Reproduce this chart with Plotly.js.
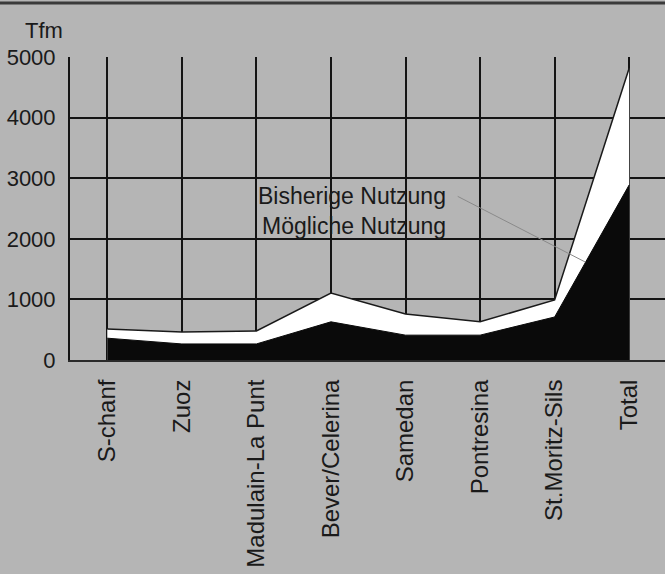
<!DOCTYPE html>
<html>
<head>
<meta charset="utf-8">
<script src="https://cdn.plot.ly/plotly-3.0.1.min.js"></script>
<style>
html,body{margin:0;padding:0;background:#b5b5b5;}
#chart{width:665px;height:574px;}
</style>
</head>
<body>
<div id="chart"></div>
<script>
const categories = ["S-chanf","Zuoz","Madulain-La Punt","Bever/Celerina","Samedan","Pontresina","St.Moritz-Sils","Total"];
const bisherige = [360, 265, 265, 630, 410, 410, 710, 2890];
const moegliche = [510, 460, 480, 1105, 760, 630, 990, 4820];
const yTicks = [0, 1000, 2000, 3000, 4000, 5000];

const font = "Liberation Sans, Arial, Helvetica, sans-serif";
const idx = categories.map((c, i) => i);

const traces = [
  {
    x: idx, y: moegliche, type: "scatter", mode: "lines",
    fill: "tozeroy", fillcolor: "#ffffff",
    line: {color: "#1a1a1a", width: 1.5},
    name: "Mögliche Nutzung", hoverinfo: "skip"
  },
  {
    x: idx, y: bisherige, type: "scatter", mode: "lines",
    fill: "tozeroy", fillcolor: "#0a0a0a",
    line: {color: "#0a0a0a", width: 1},
    name: "Bisherige Nutzung", hoverinfo: "skip"
  }
];

const layout = {
  width: 665, height: 574,
  margin: {l: 70, r: 0, t: 57, b: 214},
  paper_bgcolor: "#b5b5b5",
  plot_bgcolor: "#b5b5b5",
  showlegend: false,
  font: {family: font, color: "#1a1a1a", size: 22},
  xaxis: {
    range: [-0.5, 7.48],
    tickmode: "array", tickvals: idx, ticktext: categories,
    tickangle: -90, ticks: "",
    ticklabelstandoff: 8,
    tickfont: {family: font, size: 24, color: "#1a1a1a"},
    showgrid: true, gridcolor: "#141414", gridwidth: 2,
    showline: true, linecolor: "#2a2a2a", linewidth: 2,
    mirror: false, zeroline: false, fixedrange: true
  },
  yaxis: {
    range: [0, 5000],
    tickmode: "array", tickvals: yTicks, ticktext: yTicks.map(String),
    ticks: "", ticklabelstandoff: 8,
    tickfont: {family: font, size: 22, color: "#1a1a1a"},
    showgrid: true, gridcolor: "#141414", gridwidth: 2,
    showline: true, linecolor: "#141414", linewidth: 2,
    zeroline: false, fixedrange: true
  },
  annotations: [
    {text: "Tfm", xref: "paper", yref: "paper", x: -0.008, y: 1.089,
     xanchor: "right", yanchor: "middle", showarrow: false,
     font: {family: font, size: 22, color: "#1a1a1a"}},
    {text: "Bisherige Nutzung", xref: "x", yref: "y", x: 2.0, y: 2710,
     xanchor: "left", yanchor: "middle", showarrow: false,
     font: {family: font, size: 23, color: "#1a1a1a"}},
    {text: "Mögliche Nutzung", xref: "x", yref: "y", x: 2.05, y: 2215,
     xanchor: "left", yanchor: "middle", showarrow: false,
     font: {family: font, size: 23, color: "#1a1a1a"}}
  ],
  shapes: [
    {type: "line", xref: "x", yref: "y", x0: 4.7, y0: 2700, x1: 6.41, y1: 1617,
     line: {color: "#8a8a8a", width: 1}},
    {type: "line", xref: "paper", yref: "paper", x0: -0.2, x1: 1.05, y0: 1.178, y1: 1.178,
     line: {color: "#3a3a3a", width: 3}}
  ]
};

Plotly.newPlot("chart", traces, layout, {displayModeBar: false, staticPlot: true});
</script>
</body>
</html>
